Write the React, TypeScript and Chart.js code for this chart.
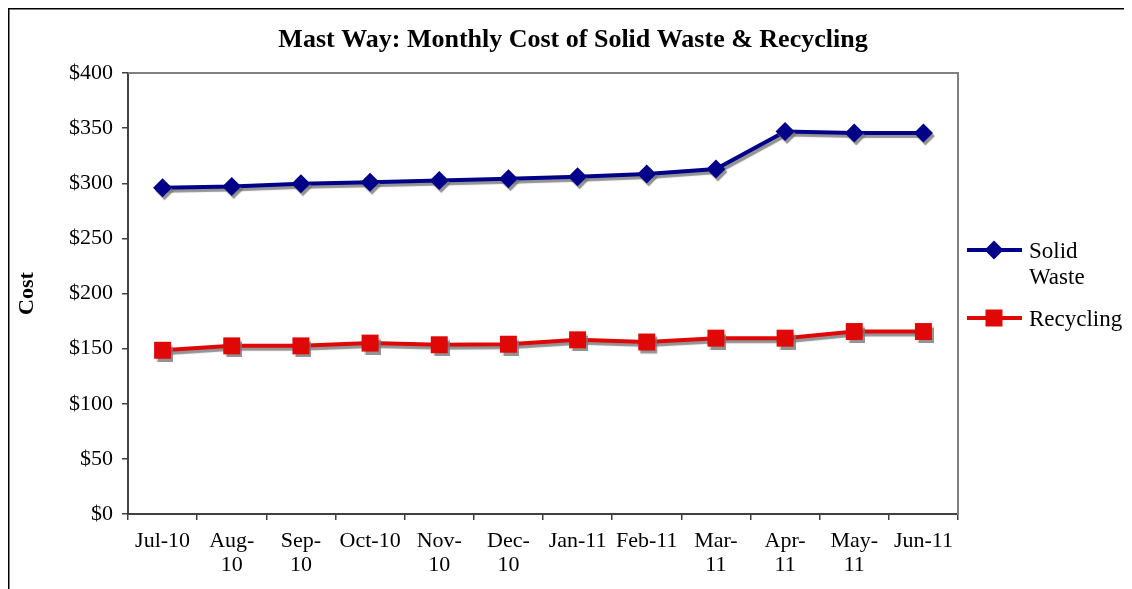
import React, { useEffect, useRef } from "react";
import { Chart, registerables } from "chart.js";

Chart.register(...registerables);

const chartTitle = "Mast Way: Monthly Cost of Solid Waste & Recycling";
const yAxisTitle = "Cost";
const categories: (string | string[])[] = [
  "Jul-10",
  ["Aug-", "10"],
  ["Sep-", "10"],
  "Oct-10",
  ["Nov-", "10"],
  ["Dec-", "10"],
  "Jan-11",
  "Feb-11",
  ["Mar-", "11"],
  ["Apr-", "11"],
  ["May-", "11"],
  "Jun-11",
];
const solidWaste = [296, 297, 299.5, 301, 302.5, 304, 306, 308.5, 313, 347, 345.5, 345.5];
const recycling = [148.5, 152.5, 152.5, 155, 153.5, 154, 158, 156, 159.5, 159.5, 165.5, 165.5];
const seriesNames = ["Solid Waste", "Recycling"];
const legendLines = [["Solid", "Waste"], ["Recycling"]];
const yMin = 0;
const yMax = 400;
const yStep = 50;

const SERIF = "'Liberation Serif', 'Times New Roman', serif";
const BLUE = "#000088";
const RED = "#E00707";

const framePlugin = {
  id: "frame",
  beforeDatasetsDraw(chart: any) {
    const { ctx, chartArea } = chart;
    ctx.save();
    ctx.strokeStyle = "#808080";
    ctx.lineWidth = 2;
    ctx.beginPath();
    ctx.moveTo(chartArea.left, chartArea.top);
    ctx.lineTo(chartArea.right + 1, chartArea.top);
    ctx.stroke();
    ctx.restore();
    ctx.save();
    ctx.shadowColor = "rgba(120,120,120,0.8)";
    ctx.shadowOffsetX = 2;
    ctx.shadowOffsetY = 3;
    ctx.shadowBlur = 1;
  },
  afterDatasetsDraw(chart: any) {
    chart.ctx.restore();
  },
  afterDraw(chart: any) {
    const { ctx, width, height } = chart;
    ctx.save();
    ctx.fillStyle = "#000";
    ctx.fillRect(0, 0, width, 1.5);
    ctx.fillRect(0, 0, 1.5, height);
    // legend
    const items = [
      { color: BLUE, y: 242, shape: "diamond", lines: legendLines[0] },
      { color: RED, y: 310, shape: "square", lines: legendLines[1] },
    ];
    ctx.font = `23px ${SERIF}`;
    ctx.textBaseline = "middle";
    ctx.textAlign = "left";
    items.forEach((it) => {
      ctx.strokeStyle = it.color;
      ctx.fillStyle = it.color;
      ctx.lineWidth = 4;
      ctx.beginPath();
      ctx.moveTo(959, it.y);
      ctx.lineTo(1014, it.y);
      ctx.stroke();
      const cx = 986;
      if (it.shape === "diamond") {
        ctx.beginPath();
        ctx.moveTo(cx, it.y - 9.5);
        ctx.lineTo(cx + 9.5, it.y);
        ctx.lineTo(cx, it.y + 9.5);
        ctx.lineTo(cx - 9.5, it.y);
        ctx.closePath();
        ctx.fill();
      } else {
        ctx.fillRect(cx - 8.5, it.y - 8.5, 17, 17);
      }
      ctx.fillStyle = "#000";
      it.lines.forEach((t, i) => {
        ctx.fillText(t, 1021, it.y + 2 + i * 26);
      });
    });
    ctx.restore();
  },
};

export default function App() {
  const ref = useRef<HTMLCanvasElement>(null);
  useEffect(() => {
    if (!ref.current) return;
    const chart = new Chart(ref.current, {
      type: "line",
      data: {
        labels: categories as any,
        datasets: [
          {
            label: seriesNames[0],
            data: solidWaste,
            borderColor: BLUE,
            backgroundColor: BLUE,
            borderWidth: 4,
            pointStyle: "rectRot",
            pointRadius: 9.5,
            pointBorderWidth: 0,
            tension: 0,
          },
          {
            label: seriesNames[1],
            data: recycling,
            borderColor: RED,
            backgroundColor: RED,
            borderWidth: 4,
            pointStyle: "rect",
            pointRadius: 12,
            pointBorderWidth: 0,
            tension: 0,
          },
        ],
      },
      options: {
        responsive: false,
        animation: false,
        layout: { padding: { left: 6, right: 0, top: 0, bottom: 0 } },
        plugins: {
          legend: { display: false },
          tooltip: { enabled: false },
          title: {
            display: true,
            text: chartTitle,
            color: "#000",
            font: { family: SERIF, size: 26, weight: "bold", lineHeight: 1.2 },
            padding: { top: 16.5, bottom: 17.3 },
          },
        },
        scales: {
          x: {
            offset: true,
            grid: {
              display: true,
              offset: true,
              drawOnChartArea: false,
              drawTicks: true,
              tickLength: 6,
              color: "#404040",
              lineWidth: 1.5,
            },
            border: { display: true, color: "#404040", width: 2 },
            ticks: {
              color: "#000",
              font: { family: SERIF, size: 22, lineHeight: 1.1 },
              padding: 9,
              maxRotation: 0,
              autoSkip: false,
            },
            afterFit: (s: any) => {
              s.height = 75;
            },
          },
          y: {
            min: yMin,
            max: yMax,
            grid: {
              display: true,
              drawOnChartArea: false,
              drawTicks: true,
              tickLength: 6,
              color: "#404040",
              lineWidth: 1.5,
            },
            border: { display: true, color: "#404040", width: 2 },
            ticks: {
              stepSize: yStep,
              color: "#000",
              font: { family: SERIF, size: 22 },
              padding: 9,
              callback: (v: any) => "$" + v,
            },
            title: {
              display: true,
              text: yAxisTitle,
              color: "#000",
              font: { family: SERIF, size: 22, weight: "bold", lineHeight: 1.2 },
              padding: { top: 0, bottom: 0 },
            },
            afterFit: (s: any) => {
              s.width = 114;
            },
          },
          y2: {
            position: "right",
            display: true,
            grid: { display: true, drawOnChartArea: false, drawTicks: false },
            ticks: { display: false },
            border: { display: true, color: "#808080", width: 2 },
            afterFit: (s: any) => {
              s.width = 174;
            },
          },
        },
      },
      plugins: [framePlugin],
    });
    return () => chart.destroy();
  }, []);
  return (
    <canvas
      ref={ref}
      width={1124}
      height={581}
      style={{ display: "block", width: 1124, height: 581 }}
    />
  );
}
